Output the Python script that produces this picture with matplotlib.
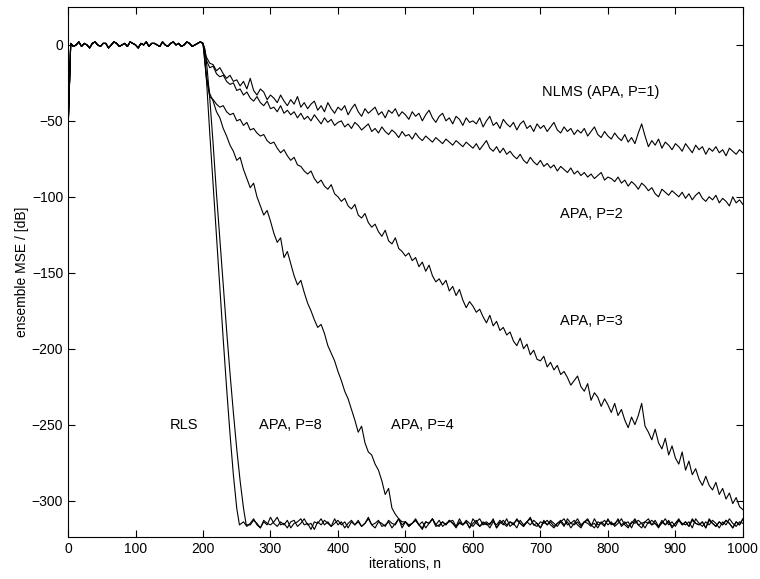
import matplotlib.pyplot as plt

plt.rcParams['font.family'] = ['Liberation Sans', 'DejaVu Sans']

# all algorithms behave the same until the system change at n=200
n_start = [0] + list(range(4, 201, 4))
mse_start = [-57,
             1, -1, 0, 2, -1, 1, 0, -2, 1, 2,
             0, -1, 1, 1, -2, 0, 2, 1, -1, 0,
             1, -1, 2, 1, 0, -2, 1, 0, 2, -1,
             1, 1, 0, -1, 2, 0, -1, 1, 2, 0,
             1, -1, 0, 2, 1, -1, 0, 1, 2, 1]

# NLMS (APA, P=1)
n_nlms = list(range(205, 1001, 5))
mse_nlms = [-8, -12, -13, -17, -15, -19, -22, -20, -24, -23,
            -27, -24, -29, -22, -30, -33, -29, -31, -36, -33,
            -35, -38, -33, -37, -40, -36, -39, -34, -41, -38,
            -42, -39, -37, -43, -40, -44, -38, -42, -45, -41,
            -43, -40, -46, -42, -39, -44, -47, -42, -45, -43,
            -41, -46, -44, -48, -43, -45, -42, -47, -44, -46,
            -49, -44, -47, -45, -50, -46, -43, -48, -51, -47,
            -45, -50, -48, -52, -47, -49, -53, -48, -51, -50,
            -52, -48, -54, -50, -47, -53, -51, -55, -49, -52,
            -54, -51, -56, -52, -50, -55, -53, -57, -52, -55,
            -53, -57, -54, -51, -56, -58, -54, -57, -55, -59,
            -56, -58, -55, -60, -57, -54, -59, -61, -57, -60,
            -62, -58, -61, -63, -59, -64, -61, -65, -58, -52,
            -60, -67, -63, -66, -62, -68, -64, -66, -69, -65,
            -67, -70, -65, -68, -71, -66, -69, -67, -72, -68,
            -70, -67, -71, -69, -73, -68, -70, -72, -69, -71]

# APA, P=2
n_p2 = list(range(205, 1001, 5))
mse_p2 = [-10, -15, -14, -19, -21, -20, -24, -26, -25, -30,
          -29, -33, -31, -35, -37, -34, -38, -40, -37, -42,
          -41, -44, -40, -45, -43, -46, -44, -48, -45, -49,
          -47, -50, -46, -49, -52, -48, -51, -49, -53, -51,
          -50, -54, -52, -55, -51, -53, -56, -54, -52, -57,
          -55, -58, -54, -57, -59, -56, -58, -61, -57, -60,
          -59, -62, -58, -61, -63, -60, -62, -64, -61, -63,
          -65, -62, -64, -66, -63, -65, -67, -64, -66, -68,
          -65, -69, -66, -63, -68, -70, -67, -71, -68, -72,
          -70, -73, -75, -72, -76, -78, -74, -77, -79, -76,
          -80, -78, -81, -79, -83, -80, -82, -84, -81, -85,
          -83, -86, -84, -87, -85, -88, -86, -84, -89, -87,
          -88, -90, -87, -91, -89, -93, -90, -92, -95, -91,
          -93, -96, -94, -98, -100, -95, -97, -99, -96, -98,
          -100, -97, -101, -98, -102, -99, -97, -101, -103, -100,
          -102, -99, -104, -101, -103, -106, -100, -104, -102, -105]

# APA, P=3
n_p3 = list(range(205, 1001, 5))
mse_p3 = [-22, -34, -36, -39, -41, -40, -44, -46, -45, -50,
          -49, -53, -51, -56, -55, -58, -60, -59, -63, -65,
          -64, -68, -71, -69, -73, -76, -74, -79, -80, -83,
          -85, -83, -88, -91, -89, -93, -95, -92, -98, -100,
          -103, -101, -106, -108, -105, -112, -114, -111, -117, -120,
          -118, -123, -126, -122, -129, -131, -127, -134, -136, -139,
          -137, -142, -140, -146, -143, -149, -145, -152, -156, -154,
          -158, -155, -162, -159, -165, -161, -168, -173, -169, -172,
          -176, -174, -179, -183, -178, -185, -182, -188, -186, -191,
          -189, -195, -198, -193, -200, -197, -204, -201, -207, -208,
          -205, -212, -209, -214, -211, -217, -215, -219, -224, -221,
          -218, -225, -228, -223, -234, -229, -232, -238, -233, -237,
          -242, -236, -244, -240, -247, -252, -245, -250, -244, -236,
          -251, -255, -260, -253, -262, -266, -259, -270, -264, -272,
          -276, -268, -280, -274, -283, -279, -286, -290, -284, -290,
          -293, -288, -296, -292, -299, -295, -302, -298, -304, -306]

# APA, P=4
n_p4 = list(range(205, 1001, 5))
mse_p4 = [-20, -32, -37, -44, -48, -55, -60, -66, -70, -76,
          -74, -82, -88, -94, -91, -100, -106, -112, -109, -116,
          -124, -130, -127, -140, -136, -144, -152, -158, -155, -163,
          -170, -175, -181, -186, -184, -190, -198, -203, -208, -215,
          -221, -228, -233, -240, -247, -255, -251, -262, -268, -270,
          -276, -280, -287, -296, -292, -305, -309, -312, -314,
          -314, -317, -315, -312, -316, -318, -314, -315, -312, -316,
          -317, -314, -316, -313, -315, -318, -314, -316, -313, -315,
          -317, -314, -312, -316, -315, -318, -314, -316, -313, -315,
          -317, -314, -316, -312, -315, -317, -314, -316, -313, -315,
          -318, -314, -316, -313, -315, -317, -314, -312, -316, -315,
          -313, -316, -318, -314, -315, -317, -312, -316, -315, -313,
          -316, -314, -317, -315, -312, -316, -318, -314, -315, -313,
          -315, -318, -314, -316, -313, -317, -315, -312, -316, -314,
          -317, -313, -315, -316, -314, -318, -312, -315, -317, -314,
          -316, -313, -315, -318, -314, -316, -312, -315, -317, -314,
          -315]

# APA, P=8
n_p8 = [203, 206, 210, 215, 220, 225, 230, 235, 240, 245, 250, 255, 260, 264] + list(range(270, 1001, 5))
mse_p8 = [-3, -15, -35, -65, -98, -128, -158, -188, -216, -242, -266, -287, -305, -316,
          -316, -313, -315, -318, -314, -316, -311, -315, -317, -314,
          -316, -313, -318, -315, -314, -312, -316, -315, -319, -314,
          -315, -312, -316, -314, -317, -315, -313, -316, -314, -318,
          -314, -316, -313, -317, -315, -312, -316, -318, -314, -315,
          -317, -313, -315, -316, -312, -318, -314, -316, -315, -313,
          -316, -314, -318, -315, -312, -316, -313, -317, -315, -314,
          -313, -317, -315, -316, -314, -318, -312, -315, -317, -314,
          -316, -315, -313, -318, -314, -316, -312, -317, -315, -313,
          -315, -317, -314, -312, -316, -315, -318, -313, -316, -314,
          -317, -315, -313, -316, -314, -318, -315, -312, -316, -314,
          -313, -316, -318, -314, -315, -317, -312, -316, -315, -313,
          -316, -314, -317, -315, -312, -316, -318, -314, -315, -313,
          -315, -318, -314, -316, -313, -317, -315, -312, -316, -314,
          -317, -313, -315, -316, -314, -318, -312, -315, -317, -314,
          -316, -313, -315, -318, -314, -316, -312]

# RLS
n_rls = [202, 205, 210, 215, 220, 225, 230, 235, 240, 245, 250, 254] + list(range(260, 1001, 5))
mse_rls = [-4, -22, -58, -92, -126, -160, -194, -226, -256, -283, -305, -316,
           -314, -317, -315, -312, -316, -318, -313, -315, -316, -314,
           -311, -316, -315, -318, -314, -313, -317, -315, -312, -316,
           -315, -319, -314, -316, -313, -315, -317, -312, -316, -314,
           -318, -315, -313, -316, -314, -317, -315, -311, -316, -315,
           -313, -317, -316, -314, -318, -315, -312, -316, -314, -317,
           -315, -313, -316, -319, -314, -315, -312, -317, -316, -314,
           -316, -313, -315, -317, -312, -316, -314, -318, -315, -313,
           -317, -315, -314, -316, -312, -318, -315, -313, -316, -314,
           -315, -318, -313, -316, -314, -311, -316, -317, -314, -315,
           -313, -316, -318, -315, -314, -317, -312, -315, -316, -314,
           -317, -314, -312, -316, -315, -318, -314, -316, -313, -315,
           -316, -312, -317, -315, -314, -318, -313, -316, -315, -314,
           -312, -316, -315, -317, -313, -316, -314, -318, -315, -313,
           -316, -314, -317, -312, -315, -316, -314, -318, -313, -315,
           -317, -314, -316, -313, -315, -318, -314, -316, -312]

curves = [(n_nlms, mse_nlms), (n_p2, mse_p2), (n_p3, mse_p3),
          (n_p4, mse_p4), (n_p8, mse_p8), (n_rls, mse_rls)]

labels = ['NLMS (APA, P=1)', 'APA, P=2', 'APA, P=3', 'APA, P=4', 'APA, P=8', 'RLS']
label_x = [790, 775, 775, 525, 330, 172]
label_y = [-31, -111, -182, -250, -250, -250]

fig = plt.figure(figsize=(7.6, 5.79), dpi=100)
ax = fig.add_axes([0.0895, 0.0725, 0.888, 0.9155])

for n, mse in curves:
    assert len(n) == len(mse), (len(n), len(mse))
    ax.plot(n_start + n, mse_start + mse, color='k', lw=0.8)

for t, x, y in zip(labels, label_x, label_y):
    ax.text(x, y, t, ha='center', va='center', fontsize=10.5)

ax.set_xlim(0, 1000)
ax.set_ylim(-324, 25)
ax.set_xticks(range(0, 1001, 100))
ax.set_yticks(range(-300, 1, 50))
ax.tick_params(direction='in', top=True, right=True, labelsize=10, length=5)
ax.set_xlabel('iterations, n', fontsize=10, labelpad=1)
ax.set_ylabel('ensemble MSE / [dB]', fontsize=10, labelpad=2)

plt.savefig('out.png', dpi=100)
